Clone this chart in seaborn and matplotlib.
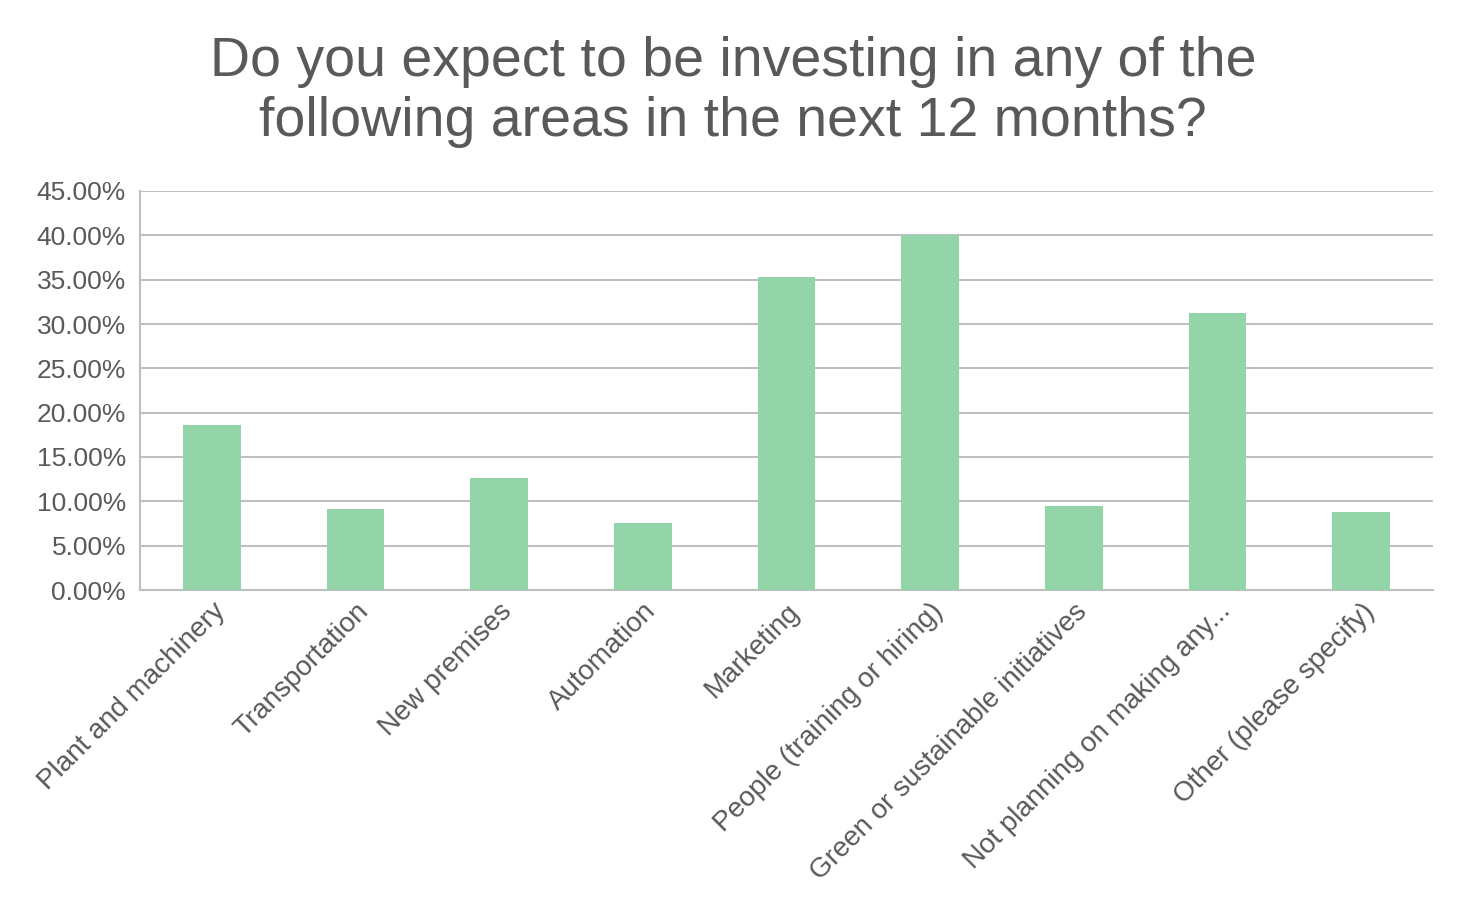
import matplotlib
matplotlib.use("Agg")
import matplotlib.pyplot as plt
import seaborn as sns
from matplotlib.ticker import FuncFormatter

categories = ["Plant and machinery", "Transportation", "New premises", "Automation",
              "Marketing", "People (training or hiring)", "Green or sustainable initiatives",
              "Not planning on making any...", "Other (please specify)"]
values = [18.6, 9.1, 12.6, 7.6, 35.3, 40.0, 9.5, 31.2, 8.8]

sns.set_style("white")
plt.rcParams['font.family'] = ['Liberation Sans', 'DejaVu Sans']

fig = plt.figure(figsize=(14.66, 9.16), dpi=100)
ax = fig.add_axes([140/1466, 1-590/916, (1433-140)/1466, (590-191)/916])
sns.barplot(x=categories, y=values, color="#93d4a8", saturation=1, width=0.4,
            linewidth=0, ax=ax, zorder=3)

ax.set_ylim(0, 45)
ax.set_yticks(range(0, 46, 5))
ax.yaxis.set_major_formatter(FuncFormatter(lambda v, p: f"{v:.2f}%"))
ax.grid(axis="y", color="#bfbfbf", linewidth=1.5, zorder=0)
ax.set_xlim(-0.5, len(categories) - 0.5)
for s in ["top", "right"]:
    ax.spines[s].set_visible(False)
for s in ["left", "bottom"]:
    ax.spines[s].set_color("#bfbfbf")
    ax.spines[s].set_linewidth(1.5)
ax.set_xticks([i - 0.5 for i in range(len(categories) + 1)], minor=True)
ax.tick_params(axis="x", which="minor", length=8, color="#bfbfbf", width=1.5)
ax.tick_params(axis="x", which="major", length=0, pad=6)
ax.tick_params(axis="y", length=0, labelsize=19, labelcolor="#595959", pad=10)
ax.set_xticks(range(len(categories)))
ax.set_xticklabels(categories, rotation=45, ha="right", rotation_mode="anchor",
                   fontsize=20, color="#595959")
ax.set_xlabel("")
ax.set_ylabel("")

fig.text(0.5, 0.90, "Do you expect to be investing in any of the\nfollowing areas in the next 12 months?",
         ha="center", va="center", fontsize=40, color="#595959", linespacing=1.2)

fig.savefig("out.png", dpi=100, facecolor="white")
